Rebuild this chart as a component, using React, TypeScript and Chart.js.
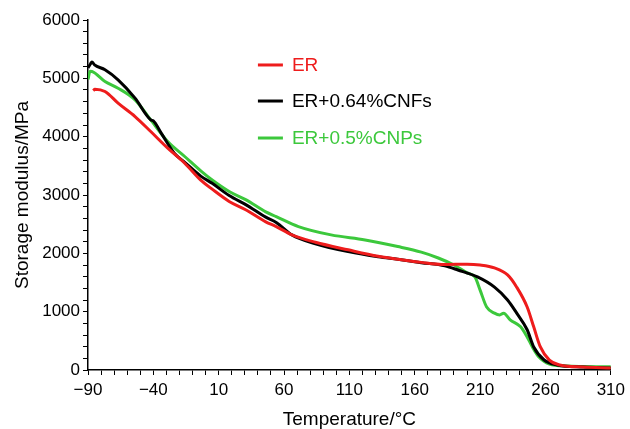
import React, { useEffect, useRef } from "react";
import { Chart, registerables } from "chart.js";

Chart.register(...registerables);

// Temperature (°C) and storage modulus (MPa)
const tempER = [-86, -84.7, -77, -67, -54, -42, -29, -16, -3.5, 5, 18, 31, 46, 54, 66, 84, 109, 132, 147, 165, 183, 200, 210, 221, 231, 238, 246, 251, 256, 263, 271, 289, 310];
const modER = [4790, 4815, 4775, 4575, 4345, 4088, 3803, 3545, 3250, 3100, 2890, 2743, 2540, 2459, 2316, 2190, 2060, 1950, 1900, 1845, 1810, 1815, 1800, 1750, 1630, 1420, 1080, 740, 400, 170, 86, 50, 35];

const tempCNF = [-90, -88, -87, -85, -77, -67, -54, -42, -40, -34, -24, -16, -3.5, 5, 18, 31, 46, 54, 66, 84, 109, 132, 147, 165, 183, 193, 208, 221, 231, 238, 246, 251, 259, 269, 289, 310];
const modCNF = [5180, 5250, 5280, 5231, 5146, 4974, 4660, 4288, 4270, 4060, 3717, 3560, 3320, 3200, 2990, 2830, 2620, 2530, 2316, 2165, 2030, 1940, 1897, 1840, 1785, 1715, 1595, 1420, 1200, 975, 690, 395, 172, 86, 51, 35];

const tempCNP = [-90, -88.5, -87, -77, -67, -54, -42, -29, -16, -3.5, 5, 18, 31, 46, 54, 71, 96, 122, 147, 165, 178, 190, 200, 206, 210, 215, 221, 225, 228, 233, 241, 246, 250, 255, 263, 276, 310];
const modCNP = [4980, 5120, 5117, 4946, 4831, 4631, 4288, 3917, 3660, 3410, 3257, 3060, 2916, 2710, 2630, 2459, 2316, 2230, 2116, 2020, 1920, 1800, 1665, 1595, 1370, 1080, 975, 945, 975, 860, 740, 566, 395, 223, 103, 69, 55];

const seriesLabels = ["ER", "ER+0.64%CNFs", "ER+0.5%CNPs"];
const seriesColors = ["#ee1c1c", "#000000", "#3cc83c"];

const xMin = -90;
const xMax = 310;
const yMin = 0;
const yMax = 6000;

const FONT = "'Liberation Sans', Arial, Helvetica, sans-serif";

function pairs(xs: number[], ys: number[]) {
  return xs.map((x, i) => ({ x, y: ys[i] }));
}

const legendPlugin = {
  id: "inlineLegend",
  afterDraw(chart: any) {
    const ctx = chart.ctx;
    const xs = chart.scales.x;
    const ys = chart.scales.y;
    const lx = xs.getPixelForValue(40);
    const rows = [5229, 4611, 3977];
    ctx.save();
    ctx.font = `19px ${FONT}`;
    ctx.textBaseline = "middle";
    chart.data.datasets.forEach((ds: any, i: number) => {
      const y = ys.getPixelForValue(rows[i]);
      ctx.strokeStyle = ds.borderColor;
      ctx.lineWidth = 3;
      ctx.beginPath();
      ctx.moveTo(lx, y);
      ctx.lineTo(lx + 25, y);
      ctx.stroke();
      ctx.fillStyle = ds.borderColor;
      ctx.fillText(ds.label, lx + 34, y + 1);
    });
    ctx.restore();
  },
};

export default function App() {
  const ref = useRef<HTMLCanvasElement | null>(null);

  useEffect(() => {
    if (!ref.current) return;
    const chart = new Chart(ref.current, {
      type: "line",
      data: {
        datasets: [
          { label: seriesLabels[0], data: pairs(tempER, modER), borderColor: seriesColors[0] },
          { label: seriesLabels[1], data: pairs(tempCNF, modCNF), borderColor: seriesColors[1] },
          { label: seriesLabels[2], data: pairs(tempCNP, modCNP), borderColor: seriesColors[2] },
        ].map((d) => ({
          ...d,
          borderWidth: 3,
          pointRadius: 0,
          fill: false,
          cubicInterpolationMode: "monotone" as const,
        })),
      },
      options: {
        animation: false,
        responsive: false,
        maintainAspectRatio: false,
        devicePixelRatio: 1,
        layout: { padding: { top: 20, right: 14, left: 0, bottom: 0 } },
        plugins: { legend: { display: false }, tooltip: { enabled: false } },
        scales: {
          x: {
            type: "linear",
            min: xMin,
            max: xMax,
            afterFit: (s: any) => {
              s.height = 59;
            },
            ticks: {
              stepSize: 10,
              autoSkip: false,
              maxRotation: 0,
              padding: 5,
              color: "#000",
              font: { family: FONT, size: 17 },
              callback: (v: any) => {
                const n = Number(v);
                if ((n - xMin) % 50 !== 0) return "";
                return n < 0 ? "\u2212" + Math.abs(n) : String(n);
              },
            },
            grid: {
              drawOnChartArea: false,
              drawTicks: true,
              tickLength: 5,
              tickColor: "#000",
              tickWidth: 1,
            },
            border: { color: "#000", width: 1.5 },
            title: {
              display: true,
              text: "Temperature/\u00b0C",
              color: "#000",
              font: { family: FONT, size: 19, lineHeight: 1 },
              padding: { top: 0, bottom: 0 },
            },
          },
          y: {
            type: "linear",
            min: yMin,
            max: yMax,
            afterFit: (s: any) => {
              s.width = 88;
            },
            ticks: {
              stepSize: 200,
              autoSkip: false,
              padding: 3,
              color: "#000",
              font: { family: FONT, size: 17 },
              callback: (v: any) => (Number(v) % 1000 === 0 ? String(v) : ""),
            },
            grid: {
              drawOnChartArea: false,
              drawTicks: true,
              tickLength: 5,
              tickColor: "#000",
              tickWidth: 1,
            },
            border: { color: "#000", width: 1.5 },
            title: {
              display: true,
              text: "Storage modulus/MPa",
              color: "#000",
              font: { family: FONT, size: 19 },
              padding: { top: 11, bottom: 0 },
            },
          },
        },
      },
      plugins: [legendPlugin],
    });
    return () => chart.destroy();
  }, []);

  return (
    <div style={{ position: "absolute", left: 0, top: 0, width: 630, height: 429, background: "#fff" }}>
      <canvas ref={ref} width={630} height={429} />
    </div>
  );
}
